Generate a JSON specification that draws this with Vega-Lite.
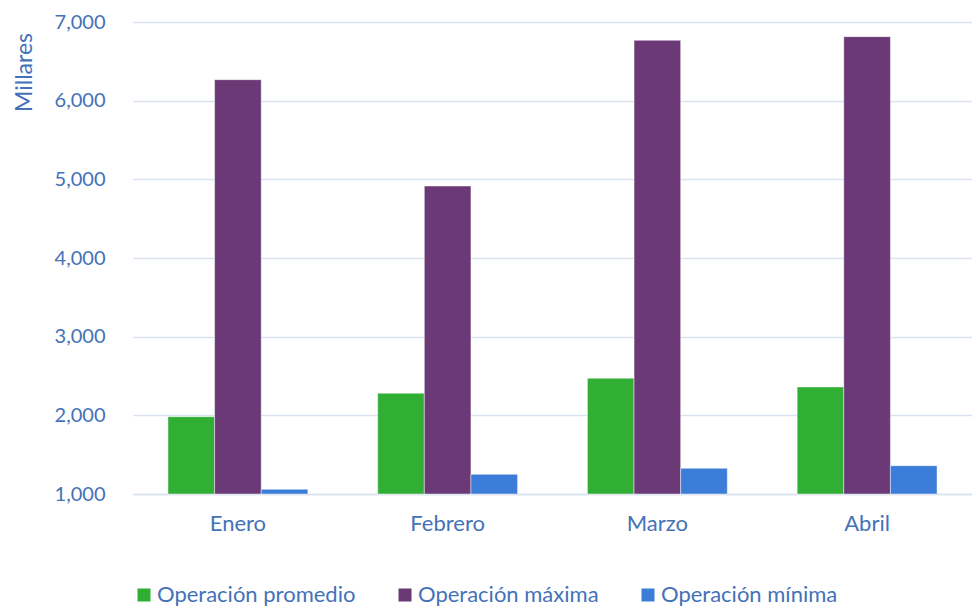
{
  "$schema": "https://vega.github.io/schema/vega-lite/v6.json",
  "autosize": {"type": "none"},
  "width": 839,
  "height": 472,
  "padding": {"left": 133, "top": 22, "right": 0, "bottom": 114},
  "background": "white",
  "config": {
    "font": "Lato",
    "view": {"stroke": null}
  },
  "data": {
    "values": [
      {"mes": "Enero", "serie": "Operación promedio", "valor": 1983},
      {"mes": "Enero", "serie": "Operación máxima", "valor": 6267},
      {"mes": "Enero", "serie": "Operación mínima", "valor": 1060},
      {"mes": "Febrero", "serie": "Operación promedio", "valor": 2281},
      {"mes": "Febrero", "serie": "Operación máxima", "valor": 4915},
      {"mes": "Febrero", "serie": "Operación mínima", "valor": 1250},
      {"mes": "Marzo", "serie": "Operación promedio", "valor": 2472},
      {"mes": "Marzo", "serie": "Operación máxima", "valor": 6767},
      {"mes": "Marzo", "serie": "Operación mínima", "valor": 1327},
      {"mes": "Abril", "serie": "Operación promedio", "valor": 2361},
      {"mes": "Abril", "serie": "Operación máxima", "valor": 6814},
      {"mes": "Abril", "serie": "Operación mínima", "valor": 1360}
    ]
  },
  "mark": {"type": "bar", "stroke": "#ffffff", "strokeOpacity": 0.45, "strokeWidth": 1},
  "encoding": {
    "x": {
      "field": "mes",
      "type": "nominal",
      "sort": ["Enero", "Febrero", "Marzo", "Abril"],
      "scale": {"paddingInner": 0.333, "paddingOuter": 0.1667},
      "axis": {
        "title": null,
        "labelAngle": 0,
        "labelFontSize": 22,
        "labelColor": "#4472B8",
        "labelPadding": 19,
        "ticks": false,
        "domain": true,
        "domainColor": "#D9E2F0",
        "domainWidth": 1.5
      }
    },
    "xOffset": {
      "field": "serie",
      "type": "nominal",
      "sort": ["Operación promedio", "Operación máxima", "Operación mínima"],
      "scale": {"paddingInner": 0, "paddingOuter": 0}
    },
    "y": {
      "field": "valor",
      "type": "quantitative",
      "scale": {"domain": [1000, 7000], "nice": false, "zero": false},
      "axis": {
        "values": [1000, 2000, 3000, 4000, 5000, 6000, 7000],
        "format": ",d",
        "title": "Millares",
        "titleFontSize": 23,
        "titleFontWeight": "normal",
        "titleColor": "#4472B8",
        "titleAngle": -90,
        "titleAlign": "center",
        "titleBaseline": "alphabetic",
        "titleX": -102,
        "titleY": 50,
        "labelFontSize": 20,
        "labelColor": "#4472B8",
        "labelPadding": 28,
        "ticks": false,
        "domain": false,
        "grid": true,
        "gridColor": "#D9E2F0",
        "gridWidth": 1.5
      }
    },
    "y2": {"datum": 1000},
    "color": {
      "field": "serie",
      "type": "nominal",
      "sort": ["Operación promedio", "Operación máxima", "Operación mínima"],
      "scale": {
        "domain": ["Operación promedio", "Operación máxima", "Operación mínima"],
        "range": ["#31AF35", "#6C3977", "#3C7DD9"]
      },
      "legend": {
        "title": null,
        "orient": "bottom",
        "direction": "horizontal",
        "symbolType": "square",
        "symbolSize": 169,
        "symbolStrokeWidth": 0,
        "labelFontSize": 22,
        "labelLimit": 400,
        "labelColor": "#4472B8",
        "labelOffset": 2,
        "columnPadding": 38,
        "offset": 50
      }
    }
  }
}
